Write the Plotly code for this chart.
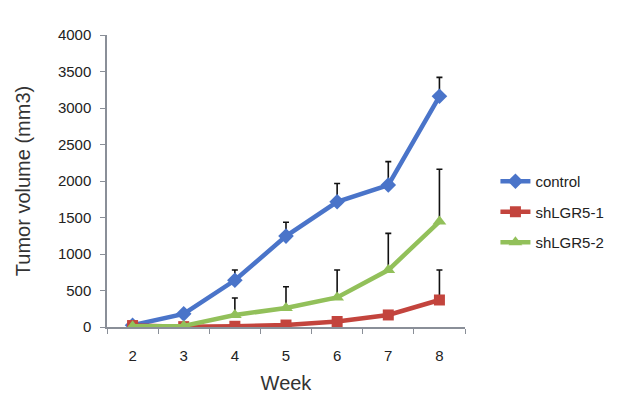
import plotly.graph_objects as go

weeks = [2, 3, 4, 5, 6, 7, 8]
series_names = ["control", "shLGR5-1", "shLGR5-2"]
control = [25, 180, 640, 1245, 1715, 1945, 3160]
control_err = [20, 40, 140, 190, 250, 320, 260]
sh1 = [20, 5, 10, 27, 75, 165, 370]
sh1_err = [10, 10, 15, 20, 30, 40, 410]
sh2 = [10, 15, 165, 260, 405, 780, 1445]
sh2_err = [10, 15, 232, 292, 376, 503, 715]
y_ticks = [0, 500, 1000, 1500, 2000, 2500, 3000, 3500, 4000]

colors = ["#4a74c9", "#c3443d", "#92c05a"]
symbols = ["diamond", "square", "triangle-up"]
sizes = [12, 11, 12]
ys = [control, sh1, sh2]
errs = [control_err, sh1_err, sh2_err]

fig = go.Figure()
for i in range(3):
    fig.add_trace(go.Scatter(
        x=weeks, y=ys[i], name=series_names[i], mode="lines+markers",
        legendgroup=series_names[i],
        line=dict(color=colors[i], width=4.5),
        marker=dict(symbol=symbols[i], size=sizes[i], color=colors[i]),
        error_y=dict(type="data", array=errs[i], arrayminus=[0]*len(weeks),
                     symmetric=False, color="#111111", thickness=1.6, width=3),
    ))

axis_font = dict(family="Liberation Sans, Arial, sans-serif", size=15, color="#222222")
fig.update_layout(
    width=621, height=399,
    margin=dict(l=99, r=164, t=27, b=80),
    paper_bgcolor="white", plot_bgcolor="white",
    font=dict(family="Liberation Sans, Arial, sans-serif", color="#222222"),
    legend=dict(x=1.085, y=0.394, xanchor="left", yanchor="middle",
                font=dict(size=15, color="#222222"), tracegroupgap=8,
                itemwidth=30, bgcolor="rgba(0,0,0,0)"),
    xaxis=dict(range=[1.5, 8.5], tickvals=weeks, ticktext=[str(w) for w in weeks],
               showgrid=False, zeroline=False, showline=True, linecolor="#8a8f98",
               linewidth=1.5, ticks="", tickfont=axis_font, ticklabelstandoff=14,
               minor=dict(tick0=1.5, dtick=1, ticks="outside", ticklen=5,
                          tickcolor="#8a8f98", showgrid=False),
               title=dict(text="Week", font=dict(size=20, color="#333333"), standoff=13)),
    yaxis=dict(range=[0, 4000], tickvals=y_ticks, showgrid=False, zeroline=False,
               showline=True, linecolor="#8a8f98", linewidth=1.5,
               ticks="outside", ticklen=5, tickcolor="#8a8f98", tickfont=axis_font,
               ticklabelstandoff=6,
               title=dict(text="Tumor volume (mm3)", font=dict(size=20, color="#333333"),
                          standoff=22)),
)
fig.write_html("out.html")
